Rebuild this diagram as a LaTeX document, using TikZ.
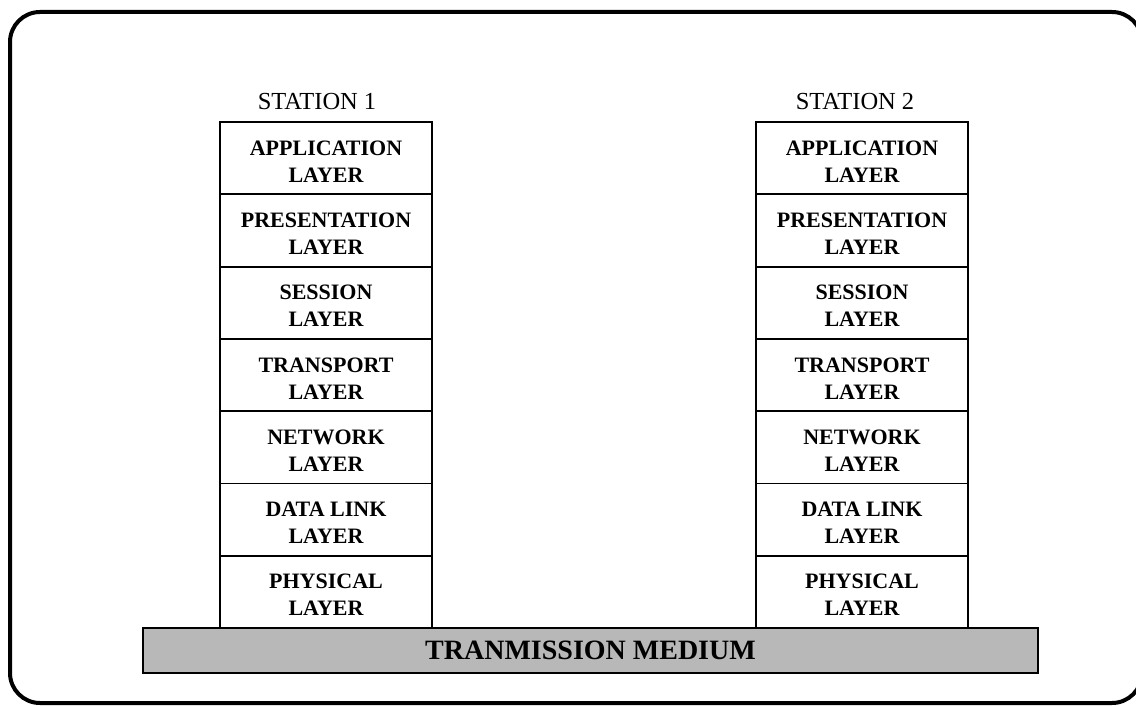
\documentclass[tikz,border=0pt]{standalone}
\usepackage{fontspec}
\setmainfont{Liberation Serif}
\newcommand{\lyr}[2]{\rule{0pt}{21pt}#1\\#2}
\begin{document}
\begin{tikzpicture}[x=1pt,y=-1pt,
  layerbox/.style={draw=black, line width=1.8pt, minimum width=212pt, minimum height=72.3pt,
    inner sep=0pt, align=center, font=\fontsize{22}{27}\selectfont\bfseries},
  stationlabel/.style={anchor=base, inner sep=0pt, font=\fontsize{24.5}{28}\selectfont},
  medium/.style={draw=black, line width=2.4pt, fill=black!28, minimum width=895pt,
    minimum height=45pt, inner sep=0pt, font=\fontsize{28}{32}\selectfont\bfseries},
  frame/.style={draw=black, line width=4pt, rounded corners=30pt}]
\useasboundingbox (0,0) rectangle (1136,706);
\draw[frame] (10,12) rectangle (1142,703);
% station labels
\node[stationlabel] (st1) at (317,110) {STATION 1};
\node[stationlabel] (st2) at (855,110) {STATION 2};
% station 1 layers
\node[layerbox] (a1) at (326,158.15) {\lyr{APPLICATION}{LAYER}};
\node[layerbox] (p1) at (326,230.45) {\lyr{PRESENTATION}{LAYER}};
\node[layerbox] (s1) at (326,302.75) {\lyr{SESSION}{LAYER}};
\node[layerbox] (t1) at (326,375.05) {\lyr{TRANSPORT}{LAYER}};
\node[layerbox] (n1) at (326,447.35) {\lyr{NETWORK}{LAYER}};
\node[layerbox] (d1) at (326,519.65) {\lyr{DATA LINK}{LAYER}};
\node[layerbox] (h1) at (326,591.95) {\lyr{PHYSICAL}{LAYER}};
% station 2 layers
\node[layerbox] (a2) at (862,158.15) {\lyr{APPLICATION}{LAYER}};
\node[layerbox] (p2) at (862,230.45) {\lyr{PRESENTATION}{LAYER}};
\node[layerbox] (s2) at (862,302.75) {\lyr{SESSION}{LAYER}};
\node[layerbox] (t2) at (862,375.05) {\lyr{TRANSPORT}{LAYER}};
\node[layerbox] (n2) at (862,447.35) {\lyr{NETWORK}{LAYER}};
\node[layerbox] (d2) at (862,519.65) {\lyr{DATA LINK}{LAYER}};
\node[layerbox] (h2) at (862,591.95) {\lyr{PHYSICAL}{LAYER}};
% transmission medium
\node[medium] (tm) at (590.5,650.5) {TRANMISSION MEDIUM};
\end{tikzpicture}
\end{document}
